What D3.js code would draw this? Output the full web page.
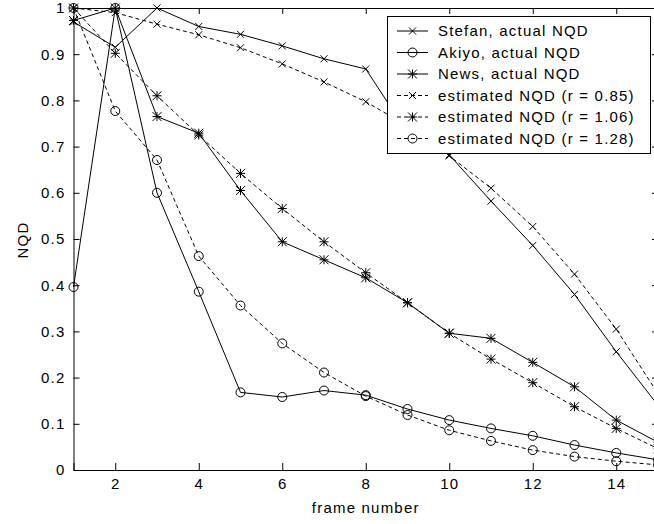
<!DOCTYPE html>
<html>
<head>
<meta charset="utf-8">
<script src="https://cdn.jsdelivr.net/npm/d3@7"></script>
<style>
  body { margin: 0; background: #fff; }
  svg { display: block; }
  text { font-family: "Liberation Sans", Arial, sans-serif; font-size: 15px; letter-spacing: 1.2px; fill: #000; }
</style>
</head>
<body>
<div id="chart"></div>
<script>
// frame numbers
var frames = [1, 2, 3, 4, 5, 6, 7, 8, 9, 10, 11, 12, 13, 14, 15];

// series
var stefanActual = [0.97, 0.915, 1.0, 0.96, 0.943, 0.918, 0.89, 0.868, 0.73, 0.682, 0.582, 0.486, 0.38, 0.256, 0.14];
var akiyoActual  = [0.396, 1.0, 0.60, 0.386, 0.168, 0.158, 0.172, 0.162, 0.132, 0.108, 0.09, 0.074, 0.054, 0.037, 0.022];
var newsActual   = [0.973, 1.0, 0.765, 0.729, 0.605, 0.494, 0.455, 0.416, 0.362, 0.296, 0.285, 0.233, 0.18, 0.108, 0.06];
var stefanEst    = [1.0, 0.99, 0.965, 0.942, 0.914, 0.879, 0.84, 0.797, 0.745, 0.68, 0.61, 0.527, 0.424, 0.305, 0.165];
var newsEst      = [1.0, 0.902, 0.81, 0.725, 0.642, 0.566, 0.494, 0.427, 0.362, 0.296, 0.24, 0.189, 0.137, 0.09, 0.046];
var akiyoEst     = [1.0, 0.777, 0.671, 0.463, 0.356, 0.274, 0.211, 0.16, 0.119, 0.086, 0.063, 0.043, 0.029, 0.019, 0.011];

var xTicks = [2, 4, 6, 8, 10, 12, 14];
var yTicks = [0, 0.1, 0.2, 0.3, 0.4, 0.5, 0.6, 0.7, 0.8, 0.9, 1];
var yTickLabels = ["0", "0.1", "0.2", "0.3", "0.4", "0.5", "0.6", "0.7", "0.8", "0.9", "1"];

var series = [
    {name: "Stefan, actual NQD", values: stefanActual, marker: "x", dashed: false},
    {name: "Akiyo, actual NQD", values: akiyoActual, marker: "o", dashed: false},
    {name: "News, actual NQD", values: newsActual, marker: "*", dashed: false},
    {name: "estimated NQD (r = 0.85)", values: stefanEst, marker: "x", dashed: true},
    {name: "estimated NQD (r = 1.06)", values: newsEst, marker: "*", dashed: true},
    {name: "estimated NQD (r = 1.28)", values: akiyoEst, marker: "o", dashed: true}
];

var width = 654, height = 524;
var plot = {left: 73.5, right: 658, top: 8, bottom: 470};

var svg = d3.select("#chart").append("svg")
    .attr("width", width)
    .attr("height", height);

var x = d3.scaleLinear().domain([1, 15]).range([plot.left, plot.right]);
var y = d3.scaleLinear().domain([0, 1]).range([plot.bottom, plot.top]);

// axes (ticks pointing inward, like matlab)
var xAxis = d3.axisBottom(x).tickValues(xTicks).tickSize(-7).tickPadding(8).tickFormat(d3.format("d"));
var yAxis = d3.axisLeft(y).tickValues(yTicks).tickSize(-6).tickPadding(8)
    .tickFormat(function(d, i) { return yTickLabels[i]; });

svg.append("g")
    .attr("transform", "translate(0," + plot.bottom + ")")
    .call(xAxis);
svg.append("g")
    .attr("transform", "translate(" + plot.left + ",0)")
    .call(yAxis);
// top and right box lines with inward ticks
svg.append("g")
    .attr("transform", "translate(0," + plot.top + ")")
    .call(d3.axisTop(x).tickValues(xTicks).tickSize(-6).tickFormat(""));
svg.append("g")
    .attr("transform", "translate(" + plot.right + ",0)")
    .call(d3.axisRight(y).tickValues(yTicks).tickSize(-6).tickFormat(""));

svg.selectAll(".domain").attr("stroke", "#000");
svg.selectAll(".tick line").attr("stroke", "#000");
svg.selectAll(".tick text")
    .style("font-family", "'Liberation Sans', Arial, sans-serif")
    .style("font-size", "15px");

// axis titles
svg.append("text")
    .attr("x", (plot.left + plot.right) / 2)
    .attr("y", 513)
    .attr("text-anchor", "middle")
    .text("frame number");

svg.append("text")
    .attr("transform", "translate(28,240) rotate(-90)")
    .attr("text-anchor", "middle")
    .text("NQD");

function drawMarker(g, type, cx, cy) {
    if (type === "o") {
        g.append("circle").attr("cx", cx).attr("cy", cy).attr("r", 4.5)
            .attr("fill", "none").attr("stroke", "#000");
    } else {
        var s = type === "x" ? 3.5 : 4.5;
        var segs = [[-s, -s, s, s], [-s, s, s, -s]];
        if (type === "*") segs.push([-s, 0, s, 0], [0, -s, 0, s]);
        segs.forEach(function(p) {
            g.append("line")
                .attr("x1", cx + p[0]).attr("y1", cy + p[1])
                .attr("x2", cx + p[2]).attr("y2", cy + p[3])
                .attr("stroke", "#000");
        });
    }
}

var line = d3.line()
    .x(function(d, i) { return x(frames[i]); })
    .y(function(d) { return y(d); });

series.forEach(function(s) {
    var g = svg.append("g");
    g.append("path")
        .attr("d", line(s.values))
        .attr("fill", "none")
        .attr("stroke", "#000")
        .attr("stroke-width", 1)
        .attr("stroke-dasharray", s.dashed ? "4,3" : null);
    s.values.forEach(function(v, i) {
        drawMarker(g, s.marker, x(frames[i]), y(v));
    });
});

// legend
var legend = svg.append("g");
legend.append("rect")
    .attr("x", 387.5).attr("y", 16.5)
    .attr("width", 263).attr("height", 137)
    .attr("fill", "#fff").attr("stroke", "#000");

series.forEach(function(s, i) {
    var ly = 31 + i * 21.5;
    legend.append("line")
        .attr("x1", 397).attr("x2", 428)
        .attr("y1", ly).attr("y2", ly)
        .attr("stroke", "#000")
        .attr("stroke-dasharray", s.dashed ? "4,3" : null);
    drawMarker(legend, s.marker, 412.5, ly);
    legend.append("text")
        .attr("x", 438).attr("y", ly + 5)
        .text(s.name);
});
</script>
</body>
</html>
